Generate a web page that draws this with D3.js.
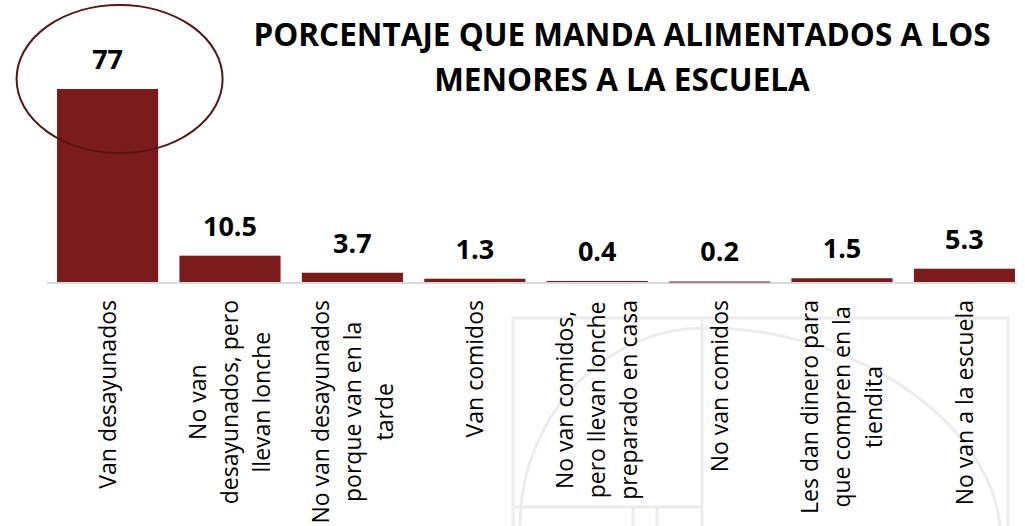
<!DOCTYPE html>
<html>
<head>
<meta charset="utf-8">
<script src="https://cdn.jsdelivr.net/npm/d3@7"></script>
<style>
  body { margin: 0; background: #fff; }
  svg { display: block; font-family: "Open Sans", "Noto Sans", sans-serif; }
</style>
</head>
<body>
<div id="chart"></div>
<script>
// data
const categories = [
    ["Van desayunados"],
    ["No van", "desayunados, pero", "llevan lonche"],
    ["No van desayunados", "porque van en la", "tarde"],
    ["Van comidos"],
    ["No van comidos,", "pero llevan lonche", "preparado en casa"],
    ["No van comidos"],
    ["Les dan dinero para", "que compren en la", "tiendita"],
    ["No van a la escuela"]
];
const values = [77, 10.5, 3.7, 1.3, 0.4, 0.2, 1.5, 5.3];
const valueLabels = ["77", "10.5", "3.7", "1.3", "0.4", "0.2", "1.5", "5.3"];
const titleLines = ["PORCENTAJE QUE MANDA ALIMENTADOS A LOS", "MENORES A LA ESCUELA"];

const width = 1025;
const height = 526;
const baseY = 282;
const barColor = "#7a1c1c";

const svg = d3.select("#chart").append("svg")
    .attr("width", width)
    .attr("height", height);

// faint watermark in the background
const wm = svg.append("g")
    .attr("fill", "none")
    .attr("stroke", "#ececec")
    .attr("stroke-width", 3);
wm.append("rect").attr("x", 513).attr("y", 318).attr("width", 495).attr("height", 230);
wm.append("line").attr("x1", 702).attr("y1", 318).attr("x2", 702).attr("y2", 526);
wm.append("line").attr("x1", 513).attr("y1", 507).attr("x2", 702).attr("y2", 507);
wm.append("line").attr("x1", 633).attr("y1", 507).attr("x2", 633).attr("y2", 526);
wm.append("line").attr("x1", 657).attr("y1", 507).attr("x2", 657).attr("y2", 526);
wm.append("path").attr("d", "M520,526 C520,420 600,330 702,328 C850,326 990,420 1000,526");

// scales
const x = d3.scaleBand()
    .domain(d3.range(categories.length))
    .range([47, 1025])
    .paddingInner(0.174)
    .paddingOuter(0.082);

const y = d3.scaleLinear()
    .domain([0, 77])
    .range([baseY, 89]);

// title
svg.append("g")
    .selectAll("text")
    .data(titleLines)
    .enter().append("text")
    .attr("x", 622)
    .attr("y", (d, i) => 46 + i * 45)
    .attr("text-anchor", "middle")
    .style("font-size", "31.5px")
    .style("font-weight", "bold")
    .attr("fill", "#000")
    .text(d => d);

// baseline
svg.append("line")
    .attr("x1", x.range()[0])
    .attr("x2", x.range()[1] - 8)
    .attr("y1", baseY + 1)
    .attr("y2", baseY + 1)
    .attr("stroke", "#d9d9d9")
    .attr("stroke-width", 2);

// bars
svg.append("g")
    .selectAll("rect")
    .data(values)
    .enter().append("rect")
    .attr("x", (d, i) => x(i))
    .attr("width", x.bandwidth())
    .attr("y", d => y(d))
    .attr("height", d => Math.max(1, baseY - y(d)))
    .attr("fill", barColor);

// value labels
svg.append("g")
    .selectAll("text")
    .data(values)
    .enter().append("text")
    .attr("x", (d, i) => x(i) + x.bandwidth() / 2)
    .attr("y", d => y(d) - 20)
    .attr("text-anchor", "middle")
    .style("font-size", "27px")
    .style("font-weight", "bold")
    .attr("fill", "#000")
    .text((d, i) => valueLabels[i]);

// category labels, rotated, lines centred in the block
const lineH = 32;
const catG = svg.append("g")
    .selectAll("g")
    .data(categories)
    .enter().append("g")
    .attr("transform", (d, i) => "translate(" + (x(i) + x.bandwidth() / 2) + "," + (baseY + 18) + ") rotate(-90)");

catG.each(function (lines) {
    const g = d3.select(this);
    const texts = g.selectAll("text")
        .data(lines)
        .enter().append("text")
        .attr("y", (d, i) => (i - (lines.length - 1) / 2) * lineH)
        .attr("dy", "0.36em")
        .attr("text-anchor", "middle")
        .style("font-size", "23px")
        .attr("fill", "#000")
        .text(d => d);
    let maxLen = 0;
    texts.each(function () { maxLen = Math.max(maxLen, this.getComputedTextLength()); });
    texts.attr("x", -maxLen / 2);
});

// highlight ellipse round the first bar
svg.append("ellipse")
    .attr("cx", x(0) + x.bandwidth() / 2 + 12)
    .attr("cy", y(values[0]) - 10)
    .attr("rx", 103)
    .attr("ry", 74)
    .attr("fill", "none")
    .attr("stroke", "#5a1414")
    .attr("stroke-width", 2);
</script>
</body>
</html>
